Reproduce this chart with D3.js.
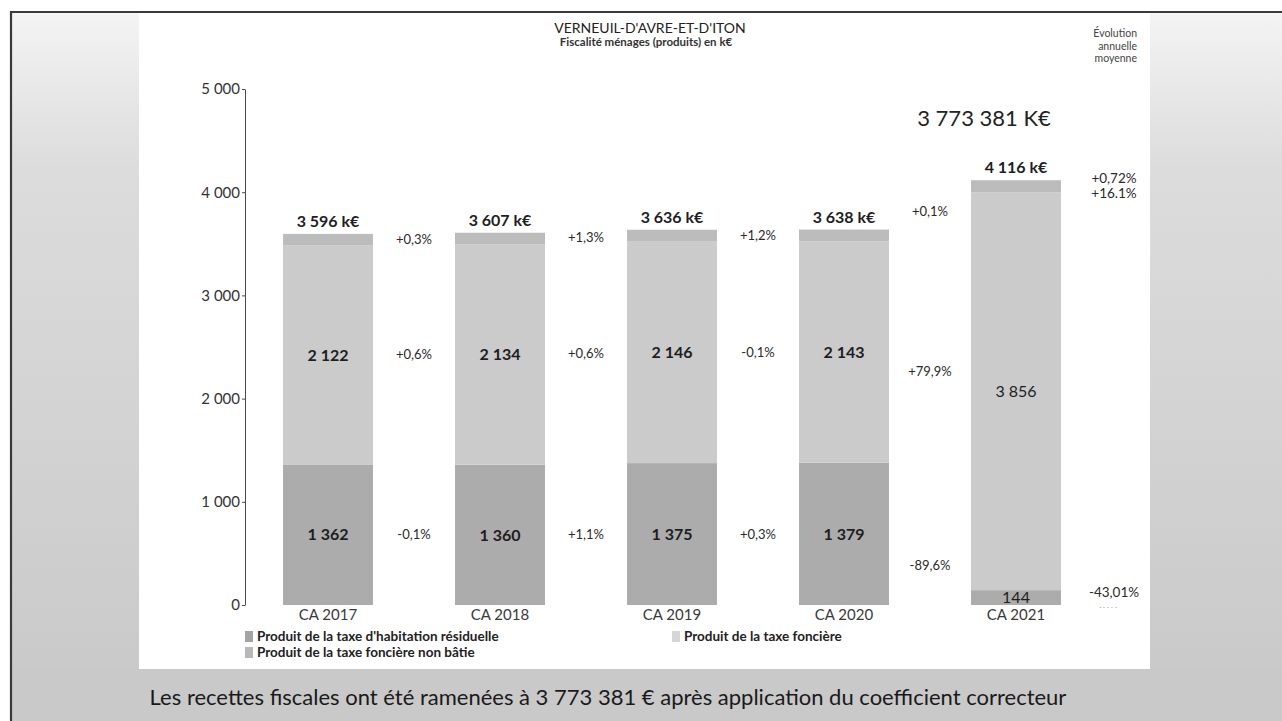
<!DOCTYPE html>
<html>
<head>
<meta charset="utf-8">
<script src="https://cdn.jsdelivr.net/npm/d3@7"></script>
<style>
  html, body { margin: 0; padding: 0; background: #fff; }
  svg text { font-family: Lato, "Open Sans", sans-serif; }
</style>
</head>
<body>
<svg width="1282" height="721"></svg>
<script>
// values (k€)
var categories = ["CA 2017", "CA 2018", "CA 2019", "CA 2020", "CA 2021"];
var habitation = [1362, 1360, 1375, 1379, 144];   // taxe d'habitation résiduelle
var fonciere   = [2122, 2134, 2146, 2143, 3856];  // taxe foncière
var nonBatie   = [112, 113, 115, 116, 116];       // taxe foncière non bâtie
var totals     = [3596, 3607, 3636, 3638, 4116];
var yTicks     = [0, 1000, 2000, 3000, 4000, 5000];

// evolution between two consecutive years
var evolHab = ["-0,1%", "+1,1%", "+0,3%", "-89,6%"];
var evolFon = ["+0,6%", "+0,6%", "-0,1%", "+79,9%"];
var evolNB  = ["+0,3%", "+1,3%", "+1,2%", "+0,1%"];
// évolution annuelle moyenne
var avgNB = "+0,72%", avgFon = "+16.1%", avgHab = "-43,01%";

var legendNames = ["Produit de la taxe d'habitation résiduelle",
                   "Produit de la taxe foncière non bâtie",
                   "Produit de la taxe foncière"];
var colors = {hab: "#acacac", nb: "#bcbcbc", fon: "#cbcbcb"};

var fr = d3.formatLocale({decimal: ",", thousands: "\u00a0", grouping: [3], currency: ["", "€"]});
var fmt = fr.format(",d");

var svg = d3.select("svg");

// ---- page background (scanned page look)
var defs = svg.append("defs");
var grad = defs.append("linearGradient").attr("id", "side").attr("x1", 0).attr("y1", 0).attr("x2", 0).attr("y2", 1);
grad.append("stop").attr("offset", "0%").attr("stop-color", "#f4f4f4");
grad.append("stop").attr("offset", "22%").attr("stop-color", "#dcdcdc");
grad.append("stop").attr("offset", "100%").attr("stop-color", "#c8c8c8");

svg.append("rect").attr("x", 11).attr("y", 12).attr("width", 1271).attr("height", 709).attr("fill", "url(#side)");
svg.append("rect").attr("x", 139).attr("y", 13).attr("width", 1011).attr("height", 656).attr("fill", "#fff");
svg.append("rect").attr("x", 11).attr("y", 669).attr("width", 1271).attr("height", 52).attr("fill", "#c9c9c9");
svg.append("path").attr("d", "M11,721V12H1282").attr("fill", "none").attr("stroke", "#3a3a3a").attr("stroke-width", 2.2);

// ---- scales
var x = d3.scaleBand()
    .domain(categories)
    .range([242, 1102])
    .paddingInner(0.477)
    .paddingOuter(0.2385);

var y = d3.scaleLinear()
    .domain([0, 5000])
    .range([605, 89]);

var g = svg.append("g");

// ---- axis
var yAxis = g.append("g")
    .attr("transform", "translate(245,0)")
    .call(d3.axisLeft(y).tickValues(yTicks).tickSize(3).tickSizeOuter(0).tickPadding(2).tickFormat(fmt));
yAxis.select(".domain").attr("stroke", "#4a4a4a");
yAxis.selectAll(".tick line").attr("stroke", "#4a4a4a");
yAxis.selectAll("text").attr("font-size", 15).attr("fill", "#333").attr("font-family", "Lato, sans-serif");

// ---- stacked bars
var rows = categories.map(function (c, i) {
    return {cat: c, hab: habitation[i], fon: fonciere[i], nb: nonBatie[i], total: totals[i], i: i};
});
var stack = d3.stack().keys(["hab", "fon", "nb"]);
var series = stack(rows);

g.selectAll(".serie")
    .data(series)
    .enter().append("g")
    .attr("class", "serie")
    .attr("fill", function (s) { return colors[s.key]; })
  .selectAll("rect")
    .data(function (s) { return s; })
    .enter().append("rect")
    .attr("x", function (d) { return x(d.data.cat); })
    .attr("y", function (d) { return y(d[1]); })
    .attr("width", x.bandwidth())
    .attr("height", function (d) { return y(d[0]) - y(d[1]); });

var cx = function (i) { return x(categories[i]) + x.bandwidth() / 2; };
var mid = function (key, i) {
    var s = series.find(function (s) { return s.key === key; })[i];
    return y((s[0] + s[1]) / 2);
};

// totals above the bars
g.selectAll(".total")
    .data(rows)
    .enter().append("text")
    .attr("x", function (d) { return cx(d.i); })
    .attr("y", function (d) { return y(d.total) - 7; })
    .attr("text-anchor", "middle")
    .attr("font-size", 16).attr("font-weight", "bold").attr("fill", "#1e1e1e")
    .text(function (d) { return fmt(d.total) + " k€"; });

// values in the segments
["fon", "hab"].forEach(function (key) {
    g.selectAll(".v-" + key)
        .data(rows)
        .enter().append("text")
        .attr("x", function (d) { return cx(d.i); })
        .attr("y", function (d) { return mid(key, d.i); })
        .attr("dy", "0.36em")
        .attr("text-anchor", "middle")
        .attr("font-size", 16)
        .attr("font-weight", function (d) { return d.i < 4 ? "bold" : "normal"; })
        .attr("fill", "#1e1e1e")
        .text(function (d) { return fmt(d[key]); });
});

// evolutions between bars
var gapX = function (i) { return x(categories[i]) + x.bandwidth() + (x.step() - x.bandwidth()) / 2; };
[["nb", evolNB], ["fon", evolFon], ["hab", evolHab]].forEach(function (p) {
    g.selectAll(".e-" + p[0])
        .data(p[1])
        .enter().append("text")
        .attr("x", function (d, i) { return gapX(i); })
        .attr("y", function (d, i) { return (mid(p[0], i) + mid(p[0], i + 1)) / 2; })
        .attr("dy", "0.36em")
        .attr("text-anchor", "middle")
        .attr("font-size", 13).attr("fill", "#2a2a2a")
        .text(function (d) { return d; });
});

// average annual evolution, right of last bar
var last = categories.length - 1;
var avgX = gapX(last) + 12;
g.append("text").attr("x", avgX).attr("y", mid("nb", last) - 8).attr("dy", "0.36em")
    .attr("text-anchor", "middle").attr("font-size", 13.5).attr("fill", "#2a2a2a").text(avgNB);
g.append("text").attr("x", avgX).attr("y", mid("nb", last) + 7).attr("dy", "0.36em")
    .attr("text-anchor", "middle").attr("font-size", 13.5).attr("fill", "#2a2a2a").text(avgFon);
g.append("text").attr("x", avgX).attr("y", mid("hab", last) - 5).attr("dy", "0.36em")
    .attr("text-anchor", "middle").attr("font-size", 13.5).attr("fill", "#2a2a2a").text(avgHab);
g.append("text").attr("x", avgX - 6).attr("y", y(0) + 3)
    .attr("text-anchor", "middle").attr("font-size", 8).attr("fill", "#888").text(". . . . .");

// category labels
g.selectAll(".cat")
    .data(categories)
    .enter().append("text")
    .attr("x", function (d, i) { return cx(i); })
    .attr("y", y(0) + 15)
    .attr("text-anchor", "middle")
    .attr("font-size", 15).attr("fill", "#3a3a3a")
    .text(function (d) { return d; });

// corrected amount
g.append("text")
    .attr("x", cx(last) - 32).attr("y", 126)
    .attr("text-anchor", "middle")
    .attr("font-size", 22).attr("fill", "#222")
    .text("3 773 381 K€");

// titles
svg.append("text").attr("x", 650).attr("y", 33).attr("text-anchor", "middle")
    .attr("font-size", 14).attr("fill", "#222").text("VERNEUIL-D'AVRE-ET-D'ITON");
svg.append("text").attr("x", 646).attr("y", 46).attr("text-anchor", "middle")
    .attr("font-size", 11.5).attr("font-weight", "bold").attr("fill", "#333").text("Fiscalité ménages (produits) en k€");
["Évolution", "annuelle", "moyenne"].forEach(function (t, i) {
    svg.append("text").attr("x", 1137).attr("y", 37 + i * 12.5).attr("text-anchor", "end")
        .attr("font-size", 10.5).attr("fill", "#444").text(t);
});

// legend
var legend = [
    {name: legendNames[0], color: "#a3a3a3", x: 245, y: 641},
    {name: legendNames[1], color: "#b8b8b8", x: 245, y: 657},
    {name: legendNames[2], color: "#d6d6d6", x: 672, y: 641}
];
var lg = svg.selectAll(".leg").data(legend).enter().append("g");
lg.append("rect").attr("x", function (d) { return d.x; }).attr("y", function (d) { return d.y - 10; })
    .attr("width", 8).attr("height", 11).attr("fill", function (d) { return d.color; });
lg.append("text").attr("x", function (d) { return d.x + 12; }).attr("y", function (d) { return d.y; })
    .attr("font-size", 13.5).attr("font-weight", "bold").attr("fill", "#222")
    .text(function (d) { return d.name; });

// caption
svg.append("text").attr("x", 608).attr("y", 705).attr("text-anchor", "middle")
    .attr("font-size", 22).attr("fill", "#1a1a1a")
    .text("Les recettes fiscales ont été ramenées à 3 773 381 € après application du coefficient correcteur");
</script>
</body>
</html>
